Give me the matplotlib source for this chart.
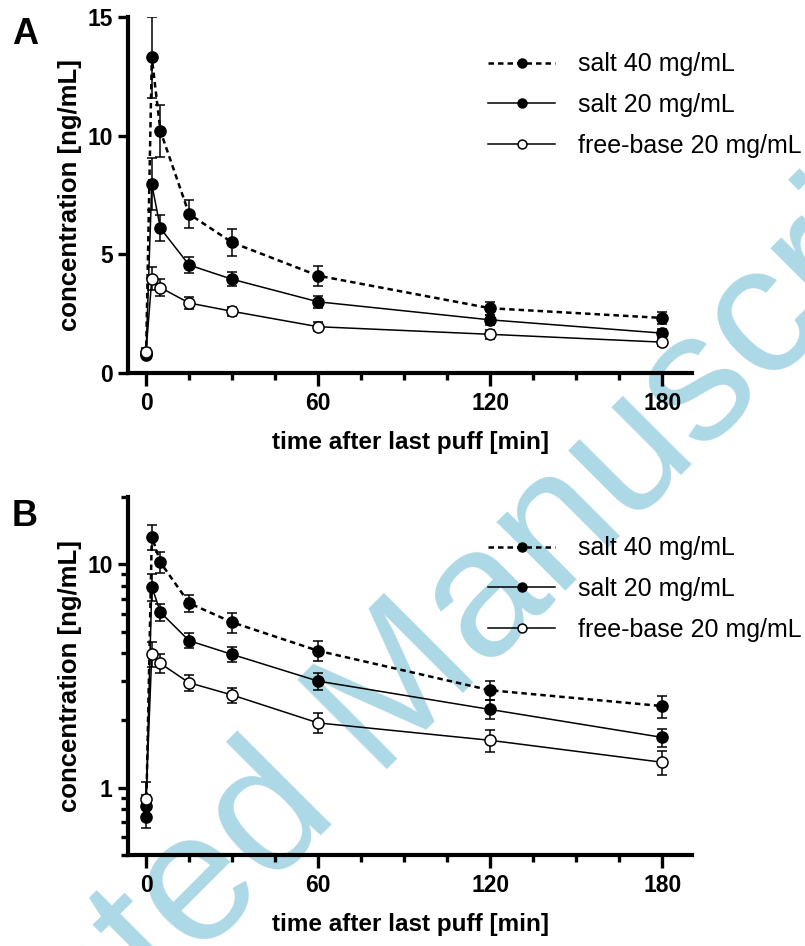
import matplotlib
matplotlib.use('Agg')
import matplotlib.pyplot as plt
import numpy as np

plt.rcParams['font.family'] = ['Liberation Sans', 'DejaVu Sans']

# time points [min]
time = [0, 2, 5, 15, 30, 60, 120, 180]

# mean concentrations [ng/mL] and SEM
salt40 = [0.74, 13.3, 10.2, 6.7, 5.5, 4.1, 2.73, 2.32]
salt40_err = [0.08, 1.7, 1.1, 0.6, 0.55, 0.42, 0.27, 0.26]
salt20 = [0.83, 7.95, 6.1, 4.55, 3.95, 3.0, 2.24, 1.68]
salt20_err = [0.1, 1.1, 0.55, 0.35, 0.3, 0.26, 0.22, 0.16]
freebase = [0.89, 3.98, 3.6, 2.95, 2.6, 1.95, 1.63, 1.3]
freebase_err = [0.17, 0.5, 0.35, 0.25, 0.2, 0.2, 0.18, 0.16]

labels = ['salt 40 mg/mL', 'salt 20 mg/mL', 'free-base 20 mg/mL']
panels = ['A', 'B']
xticks = [0, 60, 120, 180]

fig = plt.figure(figsize=(8.05, 9.46), dpi=100)

# watermark
fig.text(0.462, 0.242, 'Accepted Manuscript', rotation=45, fontsize=132,
         color='#ADD8E6', ha='center', va='center', rotation_mode='anchor',
         zorder=-1)

ax_a = fig.add_axes([128/805, 1-373/946, (692-128)/805, (373-17)/946])
ax_b = fig.add_axes([128/805, 1-855/946, (692-128)/805, (855-497)/946])

series = [
    (salt40, salt40_err, (0, (2.2, 1.6)), 1.8, 'black'),
    (salt20, salt20_err, '-', 1.1, 'black'),
    (freebase, freebase_err, '-', 1.1, 'white'),
]

for ax, letter, legtop, lettertop in [(ax_a, 'A', 1-52.3/946, 1-17/946),
                                      (ax_b, 'B', 1-536.3/946, 1-499/946)]:
    ax.set_facecolor('none')
    handles = []
    for (vals, err, ls, lw, fc), lab in zip(series, labels):
        ax.errorbar(time, vals, yerr=err, fmt='none', ecolor='black',
                    elinewidth=1.1, capsize=3.8, capthick=1.1, zorder=2)
        h, = ax.plot(time, vals, linestyle=ls, linewidth=lw, color='black',
                     marker='o', markersize=8, markerfacecolor=fc,
                     markeredgecolor='black', markeredgewidth=1.1,
                     label=lab, zorder=3)
        handles.append(h)

    ax.set_xlim(-6.3, 190.4)
    ax.set_xticks(xticks)
    ax.set_xticks([15, 30, 45, 75, 90, 105, 135, 150, 165], minor=True)
    for s in ['top', 'right']:
        ax.spines[s].set_visible(False)
    for s in ['left', 'bottom']:
        ax.spines[s].set_linewidth(3)
    ax.tick_params(axis='x', which='major', length=9, width=2.4,
                   labelsize=16.5, pad=5)
    ax.tick_params(axis='y', which='major', length=7, width=2.4,
                   labelsize=16.5, pad=4)
    ax.tick_params(axis='x', which='minor', length=5, width=2.4)
    for t in ax.get_xticklabels() + ax.get_yticklabels():
        t.set_fontweight('bold')
    ax.set_xlabel('time after last puff [min]', fontsize=17.5, fontweight='bold',
                  labelpad=11)
    ax.set_ylabel('concentration [ng/mL]', fontsize=18.5, fontweight='bold',
                  labelpad=4)

    ax.legend(handles=handles, loc='upper left', bbox_to_anchor=(488/805, legtop),
              bbox_transform=fig.transFigure, frameon=False, fontsize=18,
              handlelength=2.68, handletextpad=0.92, labelspacing=0.67,
              borderpad=0, borderaxespad=0, markerscale=0.8)
    fig.text(12/805, lettertop, letter, fontsize=26,
             fontweight='bold', va='top', ha='left')

ax_a.set_ylim(0, 15)
ax_a.set_yticks([0, 5, 10, 15])
for t in ax_a.get_yticklabels():
    t.set_fontweight('bold')

ax_b.set_yscale('log')
ax_b.set_ylim(0.5, 20)
ax_b.set_yticks([1, 10])
ax_b.set_yticklabels(['1', '10'], fontweight='bold')
ax_b.set_yticks([0.5, 0.6, 0.7, 0.8, 0.9, 2, 3, 4, 5, 6, 7, 8, 9, 20], minor=True)
ax_b.set_yticklabels([], minor=True)
ax_b.tick_params(axis='y', which='minor', length=5, width=2.4)

fig.savefig('out.png', dpi=100)
